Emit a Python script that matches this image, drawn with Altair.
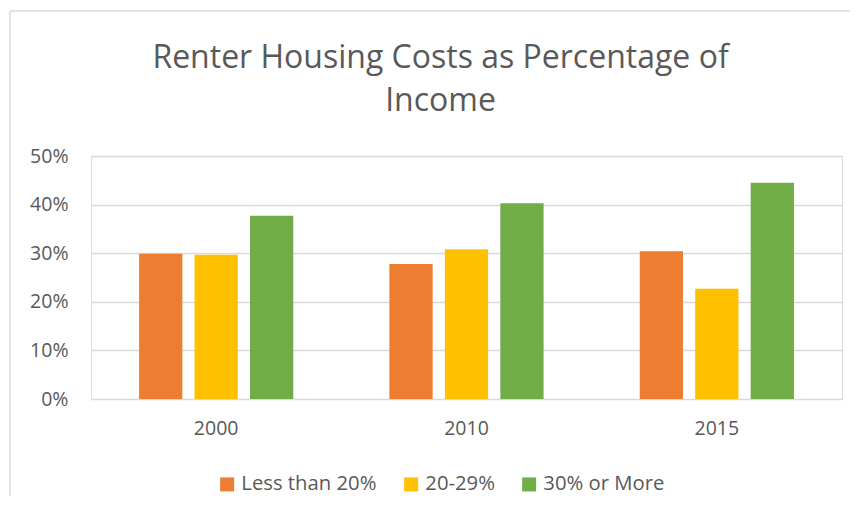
import altair as alt
import pandas as pd

years = ["2000", "2010", "2015"]
categories = ["Less than 20%", "20-29%", "30% or More"]
less_than_20 = [0.299, 0.278, 0.304]
from_20_to_29 = [0.297, 0.308, 0.227]
thirty_or_more = [0.377, 0.403, 0.445]
colors = ["#ED7D31", "#FFC000", "#70AD47"]
y_ticks = [0, 0.1, 0.2, 0.3, 0.4, 0.5]

rows = []
for i, yr in enumerate(years):
    for cat, series in zip(categories, [less_than_20, from_20_to_29, thirty_or_more]):
        rows.append({"year": yr, "category": cat, "value": series[i]})
df = pd.DataFrame(rows)

FONT = "Open Sans"
TXT = "#595959"

bars = alt.Chart(df).mark_bar().encode(
    x=alt.X("year:N", sort=years,
            scale=alt.Scale(paddingInner=0.384, paddingOuter=0.192),
            axis=alt.Axis(title=None, labelAngle=0, domain=False, ticks=False,
                          labelFont=FONT, labelFontSize=19.5, labelColor=TXT,
                          labelPadding=20, grid=False)),
    xOffset=alt.XOffset("category:N", sort=categories,
                        scale=alt.Scale(paddingInner=0.22, paddingOuter=0)),
    y=alt.Y("value:Q", scale=alt.Scale(domain=[0, 0.5]),
            axis=alt.Axis(title=None, values=y_ticks, format=".0%", domain=False,
                          ticks=False, labelFont=FONT, labelFontSize=19.5,
                          labelColor=TXT, labelPadding=23, grid=True,
                          gridColor="#d9d9d9", gridWidth=1.3)),
    color=alt.Color("category:N", sort=categories,
                    scale=alt.Scale(domain=categories, range=colors),
                    legend=alt.Legend(orient="none", legendX=126, legendY=318,
                                      direction="horizontal", title=None,
                                      symbolType="square", symbolSize=196,
                                      symbolStrokeWidth=0, labelFont=FONT,
                                      labelFontSize=20.3, labelColor=TXT,
                                      labelOffset=4, columnPadding=24)),
)

frame_df = pd.DataFrame({"k": [0]})
top_line = alt.Chart(frame_df).mark_rule(color="#d9d9d9", strokeWidth=1.5).encode(
    x=alt.value(-81), x2=alt.value(800), y=alt.value(-145))
left_line = alt.Chart(frame_df).mark_rule(color="#d9d9d9", strokeWidth=1.5).encode(
    x=alt.value(-81), y=alt.value(-145), y2=alt.value(400))

chart = alt.layer(bars, top_line, left_line).properties(
    width=751, height=243,
    title=alt.TitleParams(
        text=["Renter Housing Costs as Percentage of", "Income"],
        font=FONT, fontSize=32, fontWeight="normal", color=TXT,
        anchor="middle", lineHeight=43, offset=-108, dx=-26),
    autosize=alt.AutoSizeParams(type="none"),
    padding={"left": 83, "top": 148, "right": 8, "bottom": 97},
).configure_view(stroke=None).configure(background="white")

chart.save("out.html", embed_options={"renderer": "svg", "actions": False})
